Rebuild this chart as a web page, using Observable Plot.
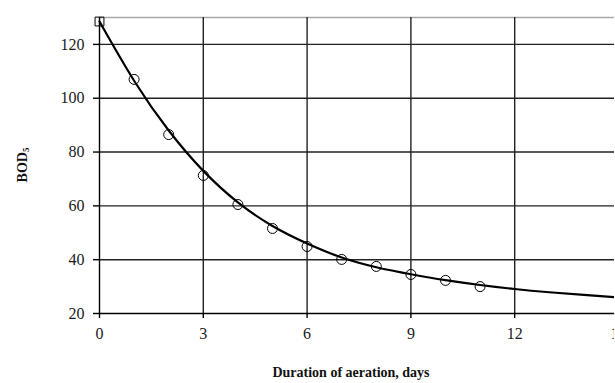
<!DOCTYPE html>
<html>
<head>
<meta charset="utf-8">
<script src="https://cdn.jsdelivr.net/npm/d3@7"></script>
<script src="https://cdn.jsdelivr.net/npm/@observablehq/plot@0.6"></script>
<style>
  html, body { margin: 0; padding: 0; background: #fff; overflow: hidden; }
  #wrap { width: 614px; height: 383px; overflow: hidden; }
  #wrap svg { max-width: none !important; }
</style>
</head>
<body>
<div id="wrap"></div>
<script>
// Observed points (days, BOD5)
const days = [0, 1, 2, 3, 4, 5, 6, 7, 8, 9, 10, 11];
const bod  = [128.5, 107, 86.5, 71.3, 60.5, 51.6, 44.9, 40.1, 37.5, 34.5, 32.3, 30.0];

// Fitted curve
const curveDays = [0, 1, 2, 3, 4, 5, 6, 7, 8, 9, 10, 11, 12, 13, 14, 15];
const curveBod  = [128.5, 106.5, 88, 73, 61.3, 52.5, 46, 40.8, 37.2, 34.6, 32.4, 30.6, 29.1, 27.9, 26.9, 26.0];

const xTicks = [0, 3, 6, 9, 12, 15];
const yTicks = [20, 40, 60, 80, 100, 120];

const points = days.map((d, i) => ({d, v: bod[i]}));
const curve = curveDays.map((d, i) => ({d, v: curveBod[i]}));

const W = 620, H = 383;
const chart = Plot.plot({
  width: W,
  height: H,
  marginLeft: 99,
  marginRight: 2,
  marginTop: 17,
  marginBottom: 70,
  style: {fontFamily: "'Liberation Serif', 'Times New Roman', serif", fontSize: "16px", color: "#1a1a1a", background: "#fff", overflow: "hidden", maxWidth: "none"},
  x: {domain: [0, 15], ticks: xTicks, tickSize: 5, tickPadding: 9, label: null, tickFormat: d => String(d)},
  y: {domain: [20, 130], ticks: yTicks, tickSize: 6, tickPadding: 9, label: null, tickFormat: d => String(d)},
  marks: [
    Plot.ruleY([130], {stroke: "#a8a8a8", strokeWidth: 1.5}),
    Plot.ruleX(xTicks.slice(1), {stroke: "#222", strokeWidth: 1.4}),
    Plot.ruleY(yTicks.slice(1), {stroke: "#222", strokeWidth: 1.4}),
    Plot.ruleY([20], {stroke: "#000", strokeWidth: 1.4}),
    Plot.ruleX([0], {stroke: "#000", strokeWidth: 1.4}),
    Plot.line(curve, {x: "d", y: "v", curve: "natural", stroke: "#000", strokeWidth: 2.2}),
    Plot.dot(points.slice(1), {x: "d", y: "v", r: 5, stroke: "#000", strokeWidth: 1, fill: "none"}),
    Plot.dot(points.slice(0, 1), {x: "d", y: "v", symbol: "square", r: 5, stroke: "#000", strokeWidth: 1, fill: "none"})
  ]
});
chart.style.maxWidth = "none";

const svg = d3.select(chart);
svg.selectAll("[aria-label='x-axis tick'] path, [aria-label='y-axis tick'] path").attr("stroke", "#000").attr("stroke-width", 1.4);

// Axis titles
svg.append("text")
  .attr("x", 351).attr("y", 377)
  .attr("text-anchor", "middle")
  .attr("font-family", "'Liberation Serif', 'Times New Roman', serif")
  .attr("font-weight", "bold").attr("font-size", 14).attr("fill", "#111")
  .text("Duration of aeration, days");

const yl = svg.append("text")
  .attr("transform", "translate(27,165) rotate(-90)")
  .attr("text-anchor", "middle")
  .attr("font-family", "'Liberation Serif', 'Times New Roman', serif")
  .attr("font-weight", "bold").attr("font-size", 14).attr("fill", "#111");
yl.append("tspan").text("BOD");
yl.append("tspan").attr("font-size", 9).attr("dy", 2).text("5");

document.getElementById("wrap").appendChild(chart);
</script>
</body>
</html>
